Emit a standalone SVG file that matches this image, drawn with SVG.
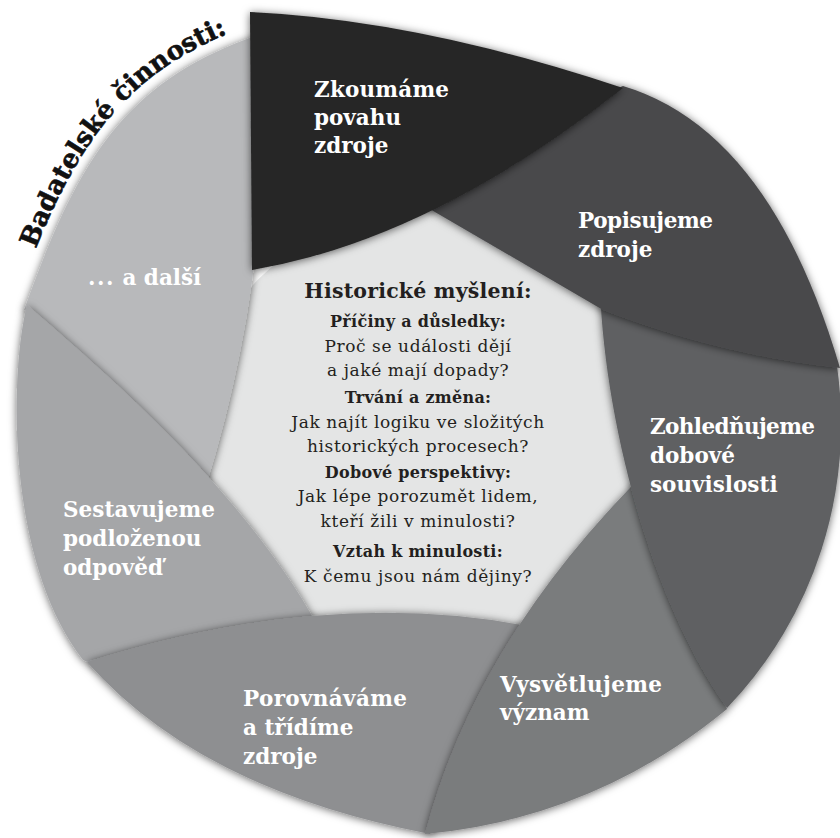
<svg xmlns="http://www.w3.org/2000/svg" width="840" height="838" viewBox="0 0 840 838">
<defs>
<filter id="sh" x="-20%" y="-20%" width="140%" height="140%">
<feDropShadow dx="0" dy="1" stdDeviation="4.5" flood-color="#000" flood-opacity="0.6"/>
</filter>
<path id="titlePath" d="M 14,307 C 71,146 122,62 278,16"/>
</defs>
<style>
.lbl{font-family:"DejaVu Serif",serif;font-weight:bold;font-size:21.5px;fill:#ffffff}
.ct{font-family:"DejaVu Serif",serif;fill:#231f20;text-anchor:middle}
.ch{font-weight:bold;font-size:20.5px;letter-spacing:0.2px}
.cs{font-weight:bold;font-size:16px;letter-spacing:0.3px}
.cr{font-size:17px;letter-spacing:0.6px}
.blade{filter:url(#sh)}
.title{font-family:"DejaVu Serif",serif;font-weight:bold;font-size:26px;fill:#111111;stroke:#111111;stroke-width:0.6px}
</style>
<rect width="840" height="838" fill="#ffffff"/>
<g id="center">
<circle cx="425" cy="445" r="235" fill="#e4e5e5"/>
</g>
<g id="a-dalsi">
<path class="blade" d="M 24,310 C 81,151 130,73 280,28 L 256,250 Q 240.5,385 195,520 L 35,315 Z" fill="#b8b9bb"/>
<text class="lbl" x="88" y="285"><tspan letter-spacing="1.5px">...</tspan> a další</text>
</g>
<g id="sestavujeme">
<path class="blade" d="M 27,305 C 120,385 250,500 320,630 L 130,680 L 83,660 C 5,560 10,370 27,305 Z" fill="#a5a6a8"/>
<text class="lbl" x="63" y="517" textLength="152" lengthAdjust="spacing">Sestavujeme</text>
<text class="lbl" x="63" y="546">podloženou</text>
<text class="lbl" x="63" y="575">odpověď</text>
</g>
<g id="porovnavame">
<path class="blade" d="M 87,662 Q 380,570 620,650 L 470,780 L 430,834 Q 200,790 87,662 Z" fill="#8e8f91"/>
<text class="lbl" x="243" y="706" textLength="164" lengthAdjust="spacing">Porovnáváme</text>
<text class="lbl" x="243" y="735">a třídíme</text>
<text class="lbl" x="243" y="764">zdroje</text>
</g>
<g id="vysvetlujeme">
<path class="blade" d="M 660,458 Q 477,634 425,834 Q 595,818 727,709 L 690,600 Z" fill="#7a7b7d"/>
<text class="lbl" x="500" y="692" textLength="162" lengthAdjust="spacing">Vysvětlujeme</text>
<text class="lbl" x="500" y="720">význam</text>
</g>
<g id="zohlednujeme">
<path class="blade" d="M 600,290 C 605,420 650,600 727,708 A 410,410 0 0 0 837,366 L 815,340 Z" fill="#5f6062"/>
<text class="lbl" x="650" y="434" textLength="165" lengthAdjust="spacing">Zohledňujeme</text>
<text class="lbl" x="650" y="463">dobové</text>
<text class="lbl" x="650" y="492">souvislosti</text>
</g>
<g id="popisujeme">
<path class="blade" d="M 623,86 Q 770,130 840,368 Q 720,355 603,310 L 380,180 Z" fill="#4a4a4c"/>
<text class="lbl" x="578" y="228" textLength="135" lengthAdjust="spacing">Popisujeme</text>
<text class="lbl" x="578" y="257">zdroje</text>
</g>
<g id="zkoumame">
<path class="blade" d="M 250,12 Q 420,20 623,88 Q 430,240 252,270 Z" fill="#262626"/>
<text class="lbl" x="314" y="97" textLength="135" lengthAdjust="spacing">Zkoumáme</text>
<text class="lbl" x="314" y="125">povahu</text>
<text class="lbl" x="314" y="153">zdroje</text>
</g>
<g id="center-text" class="ct">
<text class="ch" x="418" y="298">Historické myšlení:</text>
<text class="cs" x="418" y="327">Příčiny a důsledky:</text>
<text class="cr" x="418" y="352">Proč se události dějí</text>
<text class="cr" x="418" y="376">a jaké mají dopady?</text>
<text class="cs" x="418" y="403">Trvání a změna:</text>
<text class="cr" x="418" y="428">Jak najít logiku ve složitých</text>
<text class="cr" x="418" y="452">historických procesech?</text>
<text class="cs" x="418" y="478">Dobové perspektivy:</text>
<text class="cr" x="418" y="502">Jak lépe porozumět lidem,</text>
<text class="cr" x="418" y="527">kteří žili v minulosti?</text>
<text class="cs" x="418" y="557">Vztah k minulosti:</text>
<text class="cr" x="418" y="582">K čemu jsou nám dějiny?</text>
</g>
<g id="title">
<text class="title"><textPath href="#titlePath" startOffset="62">Badatelské činnosti:</textPath></text>
</g>
<g id="connectors"/>
</svg>
